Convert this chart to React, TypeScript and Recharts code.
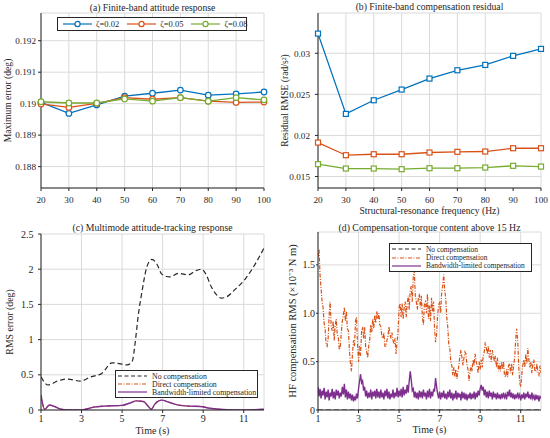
import React from 'react'
import { LineChart, Line, XAxis, YAxis, CartesianGrid } from 'recharts'

const FONT = '"Liberation Serif", "Times New Roman", serif'
const INK = '#262626'
const GRID = '#dadada'
const BLUE = '#0072BD'
const ORANGE = '#D95319'
const GREEN = '#77AC30'
const PURPLE = '#7E2F8E'

// (a) + (b): structural-resonance frequency sweep
const freqs = [20, 30, 40, 50, 60, 70, 80, 90, 100]
const errZ002 = [0.19004, 0.18969, 0.18996, 0.19024, 0.19033, 0.19043, 0.19027, 0.19031, 0.19037]
const errZ005 = [0.18999, 0.18988, 0.19001, 0.19019, 0.19014, 0.19019, 0.19008, 0.19004, 0.19005]
const errZ008 = [0.19006, 0.19002, 0.19002, 0.19015, 0.19008, 0.19019, 0.19008, 0.19019, 0.19012]
const errTicks = [0.188, 0.189, 0.19, 0.191, 0.192]

const rmseZ002 = [0.03239, 0.02262, 0.02428, 0.02558, 0.02692, 0.02793, 0.02858, 0.02968, 0.03053]
const rmseZ005 = [0.01913, 0.01759, 0.01771, 0.01771, 0.01792, 0.018, 0.01804, 0.01844, 0.01844]
const rmseZ008 = [0.0165, 0.01597, 0.01597, 0.01589, 0.01601, 0.01601, 0.01609, 0.0163, 0.01621]
const rmseTicks = [0.015, 0.02, 0.025, 0.03]

// (c): RMS attitude error over time (irregular samples)
const noCompTimeC = [1, 1.35, 1.8, 2.3, 2.95, 3.45, 4.0, 4.5, 4.85, 5.25, 5.5, 5.65, 5.8, 5.98, 6.23, 6.47, 6.72, 6.96, 7.35, 7.78, 8.27, 8.65, 8.92, 9.15, 9.4, 9.65, 9.9, 10.1, 10.6, 11.1, 11.6, 12]
const noCompC = [0.47, 0.355, 0.41, 0.44, 0.41, 0.47, 0.52, 0.67, 0.66, 0.64, 0.69, 0.97, 1.35, 1.68, 2.04, 2.14, 2.07, 1.93, 1.89, 1.94, 1.92, 1.98, 2.0, 1.92, 1.75, 1.64, 1.59, 1.6, 1.72, 1.87, 2.09, 2.3]
const bwTimeC = [1, 1.18, 1.42, 1.67, 2.0, 2.3, 3.0, 3.6, 4.1, 5.0, 5.4, 5.7, 6.05, 6.3, 6.44, 6.63, 6.96, 7.3, 7.78, 8.27, 8.85, 9.33, 9.8, 10.6, 11.0, 12.0]
const bwC = [0.21, 0.01, 0.07, 0.05, 0.01, 0, 0, 0.04, 0.055, 0.066, 0.1, 0.13, 0.12, 0.05, 0.01, 0.09, 0.14, 0.11, 0.07, 0.055, 0.05, 0.025, 0.01, 0, 0, 0.01]
// direct compensation sits under the bandwidth-limited curve in (c)
const directC = bwC
const timeTicks = [1, 3, 5, 7, 9, 11]
const rmsTicks = [0, 0.5, 1, 1.5, 2, 2.5]

// (d): HF torque content, sampled every 0.05 s from 1 s to 12 s
const directD = [
  1.58, 1.66, 1.40, 1.26, 1.12, 1.06, 0.90, 0.84, 0.68, 0.66, 0.74, 0.98, 1.12, 0.86, 0.82, 0.92, 0.72, 0.88, 0.94, 0.78,
  0.76, 0.62, 0.66, 0.80, 0.92, 0.98, 1.06, 0.92, 1.02, 0.84, 0.82, 0.62, 0.48, 0.40, 0.58, 0.72, 0.66, 0.92, 0.96, 0.68,
  0.50, 0.66, 0.56, 0.82, 0.86, 0.74, 0.86, 0.66, 0.60, 0.54, 0.66, 0.72, 0.88, 0.80, 0.94, 0.84, 0.98, 0.90, 1.02, 0.94,
  1.00, 0.88, 0.86, 0.76, 0.74, 0.80, 0.66, 0.66, 0.72, 0.76, 0.86, 0.78, 0.74, 0.80, 0.72, 0.68, 0.74, 0.58, 0.70, 0.82,
  1.06, 1.10, 0.96, 1.10, 0.94, 1.06, 1.12, 0.96, 1.10, 1.18, 1.04, 1.24, 1.28, 1.12, 1.38, 1.44, 1.18, 1.12, 1.04, 1.16,
  1.20, 1.06, 1.18, 0.96, 0.88, 1.10, 1.12, 1.00, 1.20, 0.94, 1.08, 0.92, 1.16, 1.02, 1.12, 0.84, 0.70, 0.78, 0.98, 1.08,
  1.12, 1.00, 1.22, 1.28, 1.40, 1.24, 1.16, 0.96, 0.86, 0.68, 0.64, 0.50, 0.46, 0.36, 0.44, 0.34, 0.42, 0.32, 0.40, 0.46,
  0.56, 0.62, 0.54, 0.46, 0.54, 0.60, 0.58, 0.46, 0.42, 0.30, 0.40, 0.46, 0.40, 0.52, 0.46, 0.58, 0.50, 0.46, 0.38, 0.50,
  0.42, 0.52, 0.44, 0.56, 0.60, 0.70, 0.64, 0.58, 0.66, 0.54, 0.62, 0.50, 0.62, 0.56, 0.50, 0.56, 0.44, 0.54, 0.40, 0.48,
  0.40, 0.50, 0.42, 0.50, 0.36, 0.34, 0.42, 0.34, 0.46, 0.48, 0.38, 0.48, 0.36, 0.46, 0.54, 0.72, 0.84, 0.72, 0.46, 0.28,
  0.24, 0.36, 0.46, 0.52, 0.44, 0.58, 0.48, 0.64, 0.52, 0.44, 0.50, 0.38, 0.48, 0.52, 0.40, 0.40, 0.48, 0.38, 0.36, 0.46, 0.38,
]
const bwD = [
  0.24, 0.14, 0.22, 0.12, 0.20, 0.15, 0.23, 0.11, 0.19, 0.13, 0.21, 0.10, 0.18, 0.14, 0.22, 0.12, 0.19, 0.11, 0.21, 0.15,
  0.20, 0.12, 0.18, 0.14, 0.24, 0.16, 0.27, 0.13, 0.21, 0.11, 0.19, 0.12, 0.17, 0.10, 0.16, 0.09, 0.14, 0.10, 0.17, 0.12,
  0.22, 0.30, 0.37, 0.28, 0.30, 0.20, 0.24, 0.14, 0.20, 0.12, 0.18, 0.13, 0.21, 0.11, 0.19, 0.14, 0.20, 0.12, 0.22, 0.13,
  0.19, 0.12, 0.21, 0.13, 0.18, 0.11, 0.20, 0.14, 0.22, 0.12, 0.19, 0.11, 0.17, 0.13, 0.21, 0.12, 0.18, 0.14, 0.23, 0.13,
  0.20, 0.14, 0.22, 0.13, 0.24, 0.15, 0.21, 0.17, 0.26, 0.18, 0.30, 0.40, 0.31, 0.20, 0.22, 0.13, 0.19, 0.12, 0.18, 0.11,
  0.20, 0.13, 0.19, 0.12, 0.21, 0.14, 0.18, 0.11, 0.20, 0.13, 0.22, 0.12, 0.19, 0.14, 0.21, 0.20, 0.33, 0.24, 0.17, 0.12,
  0.19, 0.11, 0.18, 0.13, 0.20, 0.12, 0.17, 0.11, 0.19, 0.13, 0.21, 0.12, 0.18, 0.10, 0.17, 0.12, 0.20, 0.11, 0.18, 0.13,
  0.17, 0.10, 0.19, 0.12, 0.18, 0.11, 0.17, 0.10, 0.16, 0.12, 0.18, 0.11, 0.17, 0.12, 0.19, 0.11, 0.18, 0.13, 0.20, 0.15,
  0.22, 0.26, 0.20, 0.24, 0.15, 0.21, 0.13, 0.19, 0.12, 0.20, 0.14, 0.18, 0.11, 0.19, 0.13, 0.17, 0.11, 0.18, 0.12, 0.16,
  0.11, 0.17, 0.12, 0.18, 0.13, 0.16, 0.11, 0.19, 0.14, 0.21, 0.13, 0.18, 0.12, 0.17, 0.11, 0.16, 0.12, 0.18, 0.13, 0.16,
  0.10, 0.16, 0.12, 0.18, 0.11, 0.17, 0.13, 0.19, 0.12, 0.16, 0.11, 0.18, 0.12, 0.15, 0.10, 0.16, 0.11, 0.15, 0.09, 0.14, 0.12,
]
const noCompTimeD = [1, 12]
const noCompD = [0, 0]
const hfTicks = [0, 0.5, 1, 1.5]

const tableA = freqs.map((f, i) => ({ f, z2: errZ002[i], z5: errZ005[i], z8: errZ008[i] }))
const tableB = freqs.map((f, i) => ({ f, z2: rmseZ002[i], z5: rmseZ005[i], z8: rmseZ008[i] }))
const pairs = (ts: number[], vs: number[]) => ts.map((t, i) => ({ t, v: vs[i] }))
const tableD = directD.map((v, i) => ({ t: +(1 + i * 0.05).toFixed(2), direct: v, bw: bwD[i] }))

const tickStyle = { fill: INK, fontSize: 9.2, fontFamily: FONT }
const tickStyleCD = { fill: INK, fontSize: 10, fontFamily: FONT }
const labelBase = { fill: INK, fontFamily: FONT }

const Square = (color: string) => (p: any) => (
  <rect key={`sq-${p.index}`} x={p.cx - 2.5} y={p.cy - 2.5} width={5} height={5}
    fill="#fff" stroke={color} strokeWidth={1.2} />
)

function Swatch({ color, dash, marker }: { color: string; dash?: string; marker?: boolean }) {
  return (
    <svg width={31} height={8} style={{ display: 'block', flex: 'none' }}>
      <line x1={1} y1={4} x2={30} y2={4} stroke={color} strokeWidth={1.2} strokeDasharray={dash} />
      {marker && <circle cx={15.5} cy={4} r={2.6} fill="#fff" stroke={color} strokeWidth={1.2} />}
    </svg>
  )
}

function BoxLegend({ left, top, width, rows, fontSize, rowH }: {
  left: number; top: number; width: number; fontSize: number; rowH: number
  rows: { label: string; color: string; dash?: string }[]
}) {
  return (
    <div style={{
      position: 'absolute', left, top, width, border: `1px solid ${INK}`, background: '#fff',
      padding: '1px 0 1px 1px', boxSizing: 'border-box', fontSize, color: INK,
    }}>
      {rows.map((r) => (
        <div key={r.label} style={{ display: 'flex', alignItems: 'center', height: rowH, gap: 4, whiteSpace: 'nowrap' }}>
          <Swatch color={r.color} dash={r.dash} />
          <span>{r.label}</span>
        </div>
      ))}
    </div>
  )
}

function Title({ text, left, width, top, size }: { text: string; left: number; width: number; top: number; size: number }) {
  return (
    <div style={{ position: 'absolute', left, width, top, textAlign: 'center', fontSize: size, lineHeight: '10px', color: INK, whiteSpace: 'nowrap' }}>
      {text}
    </div>
  )
}

const compRows = [
  { label: 'No compensation', color: INK, dash: '4 2.5' },
  { label: 'Direct compensation', color: ORANGE, dash: '4 1.5 1 1.5' },
  { label: 'Bandwidth-limited compensation', color: PURPLE },
]

export default function App() {
  const frame = { stroke: INK, strokeWidth: 1 }
  return (
    <div style={{
      position: 'absolute', left: 0, top: 0, width: 550, height: 438, background: '#fff',
      overflow: 'hidden', fontFamily: FONT,
    }}>
      {/* (a) */}
      <div style={{ position: 'absolute', left: 0, top: 0 }}>
        <LineChart width={275} height={219} data={tableA} margin={{ top: 13, right: 11, bottom: 0, left: 0 }} style={{ fontFamily: FONT }}>
          <CartesianGrid stroke={GRID} />
          <XAxis dataKey="f" type="number" domain={[20, 100]} ticks={freqs} height={31}
            axisLine={frame} tickLine={frame} tickSize={3} tickMargin={5} tick={tickStyle} />
          <XAxis xAxisId="top" orientation="top" type="number" domain={[20, 100]} height={0}
            axisLine={frame} tick={false} tickLine={false} />
          <YAxis type="number" domain={[0.18732, 0.19288]} ticks={errTicks} width={41} allowDataOverflow
            axisLine={frame} tickLine={frame} tickSize={3} tickMargin={2} tick={tickStyle} tickFormatter={(v) => String(v)}
            label={{ value: 'Maximum error (deg)', angle: -90, position: 'insideLeft', offset: 8, fontSize: 9.6, style: { textAnchor: 'middle' }, ...labelBase }} />
          <YAxis yAxisId="right" orientation="right" width={0} domain={[0, 1]} axisLine={frame} tick={false} tickLine={false} />
          <Line dataKey="z2" stroke={BLUE} strokeWidth={1.3} isAnimationActive={false}
            dot={{ r: 2.8, fill: '#fff', stroke: BLUE, strokeWidth: 1.2 }} />
          <Line dataKey="z5" stroke={ORANGE} strokeWidth={1.3} isAnimationActive={false}
            dot={{ r: 2.8, fill: '#fff', stroke: ORANGE, strokeWidth: 1.2 }} />
          <Line dataKey="z8" stroke={GREEN} strokeWidth={1.3} isAnimationActive={false}
            dot={{ r: 2.8, fill: '#fff', stroke: GREEN, strokeWidth: 1.2 }} />
        </LineChart>
      </div>
      <Title text="(a) Finite-band attitude response" left={41} width={223} top={2.5} size={9.7} />
      <div style={{
        position: 'absolute', left: 57, top: 17, width: 190, height: 14, border: `1px solid ${INK}`, background: '#fff',
        boxSizing: 'border-box', display: 'flex', alignItems: 'center', fontSize: 8.5, color: INK,
        paddingLeft: 4, gap: 3, whiteSpace: 'nowrap',
      }}>
        {[
          { label: 'ζ=0.02', color: BLUE },
          { label: 'ζ=0.05', color: ORANGE },
          { label: 'ζ=0.08', color: GREEN },
        ].map((r) => (
          <React.Fragment key={r.label}>
            <Swatch color={r.color} marker />
            <span style={{ marginRight: 4 }}>{r.label}</span>
          </React.Fragment>
        ))}
      </div>

      {/* (b) */}
      <div style={{ position: 'absolute', left: 275, top: 0 }}>
        <LineChart width={275} height={219} data={tableB} margin={{ top: 13, right: 9, bottom: 0, left: 0 }} style={{ fontFamily: FONT }}>
          <CartesianGrid stroke={GRID} />
          <XAxis dataKey="f" type="number" domain={[20, 100]} ticks={freqs} height={31}
            axisLine={frame} tickLine={frame} tickSize={3} tickMargin={5} tick={tickStyle}
            label={{ value: 'Structural-resonance frequency (Hz)', position: 'insideBottom', offset: 5.5, fontSize: 9.6, ...labelBase }} />
          <XAxis xAxisId="top" orientation="top" type="number" domain={[20, 100]} height={0}
            axisLine={frame} tick={false} tickLine={false} />
          <YAxis type="number" domain={[0.0136, 0.0349]} ticks={rmseTicks} width={43} allowDataOverflow
            axisLine={frame} tickLine={frame} tickSize={3} tickMargin={5} tick={tickStyle} tickFormatter={(v) => String(v)}
            label={{ value: 'Residual RMSE (rad/s²)', angle: -90, position: 'insideLeft', offset: 10, fontSize: 9.6, style: { textAnchor: 'middle' }, ...labelBase }} />
          <YAxis yAxisId="right" orientation="right" width={0} domain={[0, 1]} axisLine={frame} tick={false} tickLine={false} />
          <Line dataKey="z2" stroke={BLUE} strokeWidth={1.3} isAnimationActive={false} dot={Square(BLUE)} />
          <Line dataKey="z5" stroke={ORANGE} strokeWidth={1.3} isAnimationActive={false} dot={Square(ORANGE)} />
          <Line dataKey="z8" stroke={GREEN} strokeWidth={1.3} isAnimationActive={false} dot={Square(GREEN)} />
        </LineChart>
      </div>
      <Title text="(b) Finite-band compensation residual" left={318} width={223} top={2.3} size={9.7} />

      {/* (c) */}
      <div style={{ position: 'absolute', left: 0, top: 218 }}>
        <LineChart width={275} height={220} margin={{ top: 16, right: 11, bottom: 0, left: 0 }} style={{ fontFamily: FONT }}>
          <CartesianGrid stroke={GRID} />
          <XAxis dataKey="t" type="number" domain={[1, 12]} ticks={timeTicks} height={28} allowDataOverflow
            axisLine={frame} tickLine={frame} tickSize={3} tickMargin={2} tick={tickStyleCD}
            label={{ value: 'Time (s)', position: 'insideBottom', offset: 4.5, fontSize: 10, ...labelBase }} />
          <XAxis xAxisId="top" orientation="top" type="number" domain={[1, 12]} height={0}
            axisLine={frame} tick={false} tickLine={false} />
          <YAxis type="number" domain={[0, 2.5]} ticks={rmsTicks} width={41} allowDataOverflow
            axisLine={frame} tickLine={frame} tickSize={3} tickMargin={4.5} tick={tickStyleCD} tickFormatter={(v) => String(v)}
            label={{ value: 'RMS error (deg)', angle: -90, position: 'insideLeft', offset: 10, fontSize: 9.8, style: { textAnchor: 'middle' }, ...labelBase }} />
          <YAxis yAxisId="right" orientation="right" width={0} domain={[0, 1]} axisLine={frame} tick={false} tickLine={false} />
          <Line data={pairs(noCompTimeC, noCompC)} dataKey="v" type="monotone" stroke={INK} strokeWidth={1.2}
            strokeDasharray="5 3" dot={false} isAnimationActive={false} />
          <Line data={pairs(bwTimeC, directC)} dataKey="v" type="monotone" stroke={ORANGE} strokeWidth={1.2}
            strokeDasharray="4 1.5 1 1.5" dot={false} isAnimationActive={false} />
          <Line data={pairs(bwTimeC, bwC)} dataKey="v" type="monotone" stroke={PURPLE} strokeWidth={1.4}
            dot={false} isAnimationActive={false} />
        </LineChart>
      </div>
      <Title text="(c) Multimode attitude-tracking response" left={41} width={223} top={223} size={9.75} />
      <BoxLegend left={115} top={370} width={143} fontSize={7.8} rowH={8} rows={compRows} />

      {/* (d) */}
      <div style={{ position: 'absolute', left: 275, top: 218 }}>
        <LineChart width={275} height={220} data={tableD} margin={{ top: 14, right: 9, bottom: 0, left: 0 }} style={{ fontFamily: FONT }}>
          <CartesianGrid stroke={GRID} />
          <XAxis dataKey="t" type="number" domain={[1, 12]} ticks={timeTicks} height={28} allowDataOverflow
            axisLine={frame} tickLine={frame} tickSize={3} tickMargin={1.5} tick={tickStyleCD}
            label={{ value: 'Time (s)', position: 'insideBottom', offset: 5, fontSize: 10, ...labelBase }} />
          <XAxis xAxisId="top" orientation="top" type="number" domain={[1, 12]} height={0}
            axisLine={frame} tick={false} tickLine={false} />
          <YAxis type="number" domain={[0, 1.84]} ticks={hfTicks} width={43} allowDataOverflow
            axisLine={frame} tickLine={frame} tickSize={2} tickMargin={1} tick={tickStyleCD}
            tickFormatter={(v) => (v === 0 ? '0' : v.toFixed(1))}
            label={{ value: 'HF compensation RMS (×10⁻³ N m)', angle: -90, position: 'insideLeft', offset: 17, fontSize: 10.5, style: { textAnchor: 'middle' }, ...labelBase }} />
          <YAxis yAxisId="right" orientation="right" width={0} domain={[0, 1]} axisLine={frame} tick={false} tickLine={false} />
          <Line data={pairs(noCompTimeD, noCompD)} dataKey="v" stroke={INK} strokeWidth={1.2}
            strokeDasharray="5 3" dot={false} isAnimationActive={false} />
          <Line dataKey="direct" stroke={ORANGE} strokeWidth={1.2} strokeDasharray="4 1.5 1 1.5"
            dot={false} isAnimationActive={false} />
          <Line dataKey="bw" stroke={PURPLE} strokeWidth={1.4} dot={false} isAnimationActive={false} />
        </LineChart>
      </div>
      <Title text="(d) Compensation-torque content above 15 Hz" left={318} width={223} top={223} size={9.8} />
      <BoxLegend left={389} top={243} width={143} fontSize={7.4} rowH={8.4} rows={compRows} />
    </div>
  )
}
